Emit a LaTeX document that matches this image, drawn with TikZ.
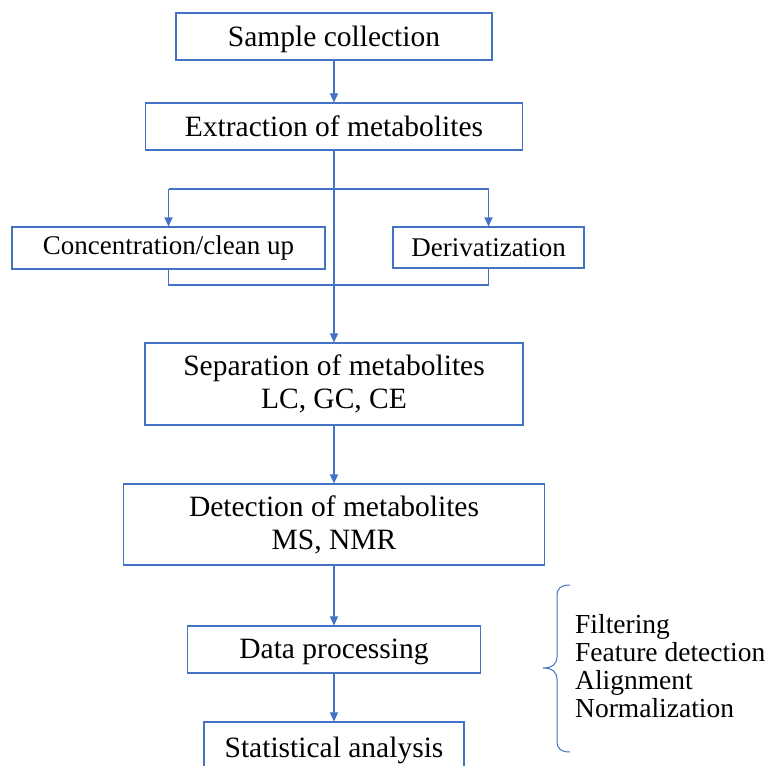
\documentclass[tikz,border=0pt]{standalone}
\usepackage{fontspec}
\setmainfont{Liberation Serif}
\usetikzlibrary{arrows.meta}
\definecolor{flowblue}{HTML}{4472C4}
\tikzset{
  box/.style={draw=flowblue, line width=1.1pt, fill=white, inner sep=0pt,
    align=center, text=black},
  bigtext/.style={font=\fontsize{29.5}{33}\selectfont},
  oneline/.style={bigtext, text depth=1pt},
  smalltext/.style={font=\fontsize{27}{31}\selectfont},
  link/.style={draw=flowblue, line width=1.1pt},
  arrowlink/.style={link, -{Triangle[length=9pt,width=8pt]}},
  listitem/.style={anchor=base west, inner sep=0pt, font=\fontsize{27.5}{31}\selectfont}
}
\begin{document}
\begin{tikzpicture}[x=1pt, y=-1pt]
  \path[use as bounding box, clip] (0,0) rectangle (773,765);
  \fill[white] (0,0) rectangle (773,765);

  % main flow boxes
  \node[box, oneline, minimum width=316pt, minimum height=47pt] (sc) at (334,36.5) {Sample collection};
  \node[box, oneline, minimum width=377pt, minimum height=47pt] (ext) at (334,126.5) {Extraction of metabolites};
  \node[box, smalltext, minimum width=313pt, minimum height=42pt] (conc) at (168.5,248) {Concentration/clean up};
  \node[box, smalltext, minimum width=191pt, minimum height=41pt] (der) at (488.5,247.5) {Derivatization};
  \node[box, bigtext, minimum width=378pt, minimum height=82pt] (sep) at (334,384) {Separation of metabolites\\LC, GC, CE};
  \node[box, bigtext, minimum width=421pt, minimum height=81pt] (det) at (334,524.5) {Detection of metabolites\\MS, NMR};
  \node[box, oneline, minimum width=293pt, minimum height=47pt] (dp) at (334,649.5) {Data processing};
  \node[box, oneline, minimum width=260pt, minimum height=52pt] (sa) at (334,748) {Statistical analysis};

  % branch and join points of the optional steps
  \coordinate (splitL) at (conc.north |- 0,189);
  \coordinate (splitR) at (der.north |- 0,189);
  \coordinate (joinL) at (conc.south |- 0,285);
  \coordinate (joinR) at (der.south |- 0,285);

  % connectors
  \draw[arrowlink] (sc) -- (ext);
  \draw[arrowlink] (ext) -- (sep);
  \draw[link] (splitL) -- (splitR);
  \draw[arrowlink] (splitL) -- (conc);
  \draw[arrowlink] (splitR) -- (der);
  \draw[link] (conc.south) -- (joinL) -- (joinR) -- (der.south);
  \draw[arrowlink] (sep) -- (det);
  \draw[arrowlink] (det) -- (dp);
  \draw[arrowlink] (dp) -- (sa);

  % brace grouping the processing steps
  \coordinate (brtop) at (570,585);
  \coordinate (brtip) at (543,668);
  \coordinate (brbot) at (570,752);
  \draw[link, line width=1pt] (brtop) .. controls (561,585) and (557,588) .. (557,596)
    -- (557,657) .. controls (557,664) and (552,668) .. (brtip)
    .. controls (552,668) and (557,672) .. (557,679)
    -- (557,741) .. controls (557,749) and (561,752) .. (brbot);

  % processing steps
  \node[listitem] (l1) at (575,633) {Filtering};
  \node[listitem] (l2) at (575,661) {Feature detection};
  \node[listitem] (l3) at (575,689) {Alignment};
  \node[listitem] (l4) at (575,717) {Normalization};
\end{tikzpicture}
\end{document}
